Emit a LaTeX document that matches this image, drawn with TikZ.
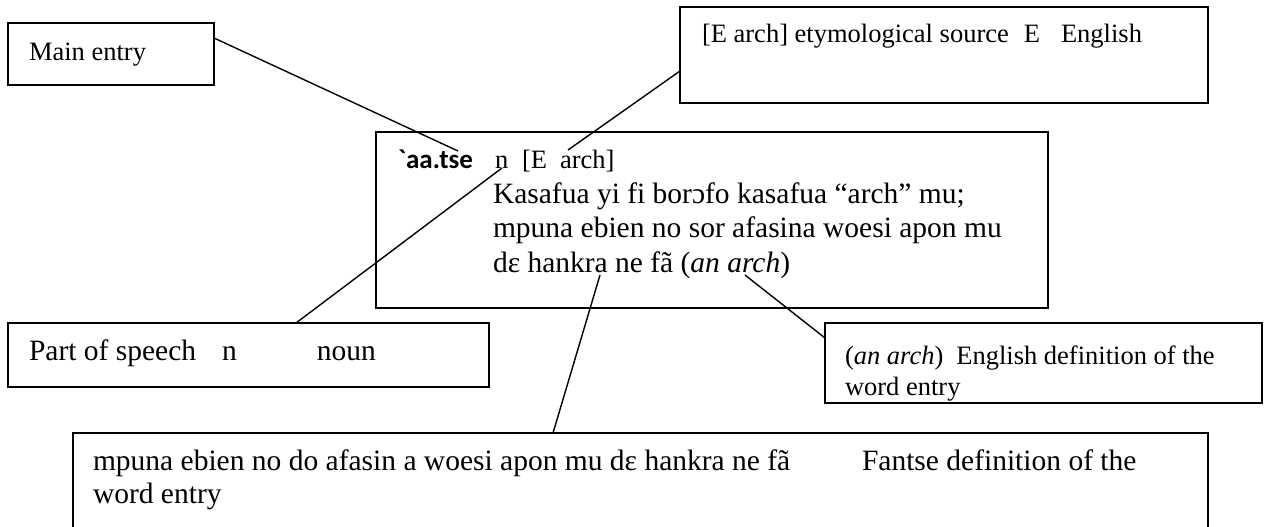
\documentclass[tikz,border=0pt]{standalone}
\usepackage{fontspec}
\setmainfont{Liberation Serif}
\newfontfamily\headfont[Ligatures=TeXOff]{Carlito}
\tikzset{
  box/.style={draw, line width=1.8pt, inner sep=0pt, outer sep=0pt, anchor=north west},
  lbl/.style={anchor=base west, inner sep=0pt, outer sep=0pt, font=\fontsize{26.5}{30.5}\selectfont},
  gtxt/.style={anchor=base west, inner sep=0pt, outer sep=0pt, font=\fontsize{29.5}{34}\selectfont},
  headw/.style={anchor=base west, inner sep=0pt, outer sep=0pt, font=\headfont\bfseries\fontsize{27}{30}\selectfont},
  link/.style={line width=1.4pt},
}
\begin{document}
\begin{tikzpicture}[x=1pt,y=-1pt]
\useasboundingbox (0,0) rectangle (1264,527);

% boxes
\node[box, minimum width=206pt, minimum height=62pt]  (mainbox) at (8,23) {};
\node[box, minimum width=528pt, minimum height=96pt]  (etymbox) at (680,7) {};
\node[box, minimum width=672pt, minimum height=176pt] (entrybox) at (376,132) {};
\node[box, minimum width=481pt, minimum height=64pt]  (posbox) at (8,323) {};
\node[box, minimum width=437pt, minimum height=80pt]  (engbox) at (825,323) {};
\node[box, minimum width=1135pt, minimum height=130pt] (fantbox) at (73,433) {};

% labels of the callout boxes
\node[lbl] (mainlbl) at (29,60) {Main entry};
\node[lbl] (etymlbl) at (702,43) {[E arch] etymological source\hspace{15pt}E\hspace{21pt}English};
\node[gtxt] (poslbl) at (29,360) {Part of speech\hspace{26pt}n\hspace{80pt}noun};
\node[lbl] (englbl) at (845,364) {(\textit{an arch})\hspace{13pt}English definition of the};
\begin{scope}
  \clip (825,323) rectangle (1262,402);
  \node[lbl] (englbltwo) at (845,395) {word entry};
\end{scope}
\node[gtxt] (fantlbl) at (93,470) {mpuna ebien no do afasin a woesi apon mu dɛ hankra ne fã};
\node[gtxt] (fantdef) at (862,470) {Fantse definition of the};
\node[gtxt] (fantlbltwo) at (93,503) {word entry};

% the dictionary entry
\node[headw] (hw) at (398,168) {`aa.tse};
\node[lbl] (pos) at (495,168) {n};
\node[lbl] (src) at (522,168) {[E\hspace{13pt}arch]};
\node[gtxt] (defa) at (493,203) {Kasafua yi fi borɔfo kasafua “arch” mu;};
\node[gtxt] (defb) at (493,237) {mpuna ebien no sor afasina woesi apon mu};
\node[gtxt] (defc) at (493,272) {dɛ hankra ne fã (\textit{an arch})};

% pointer targets inside the entry
\coordinate (hwTop)   at (458,151);
\coordinate (srcArch) at (568,150);
\coordinate (posN)    at (502,168);
\coordinate (hankra)  at (600,275);
\coordinate (anArch)  at (745,275);

% connectors
\draw[link] ([yshift=-15pt]mainbox.north east) -- (hwTop);
\draw[link] ([yshift=-64pt]etymbox.north west) -- (srcArch);
\draw[link] ([xshift=288pt]posbox.north west) -- (posN);
\draw[link] ([xshift=480pt]fantbox.north west) -- (hankra);
\draw[link] ([yshift=-15pt]engbox.north west) -- (anArch);
\end{tikzpicture}
\end{document}
